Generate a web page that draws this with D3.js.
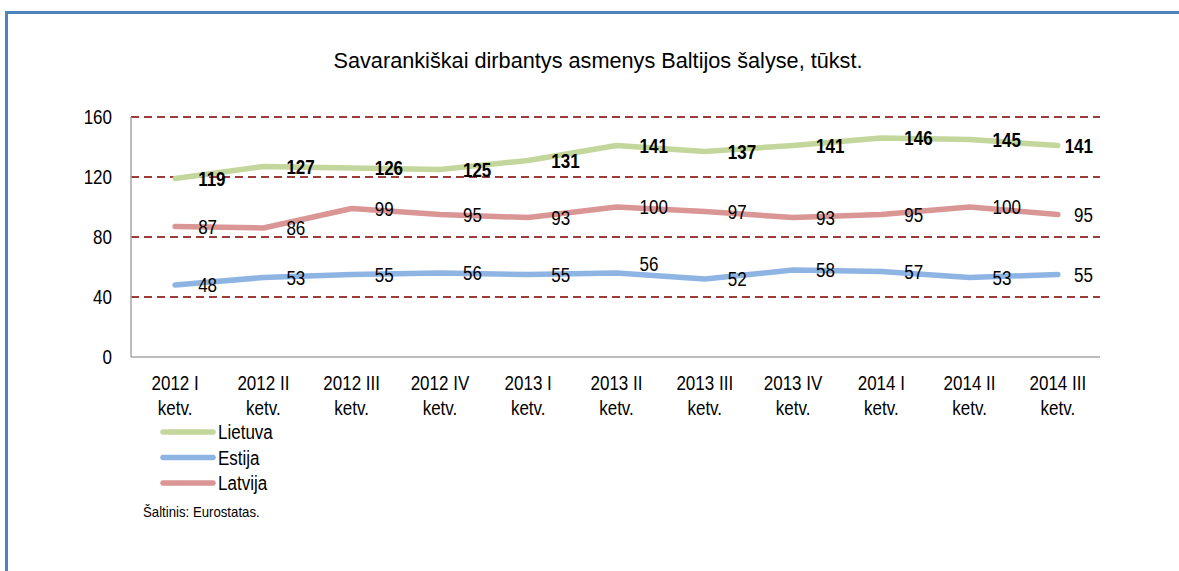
<!DOCTYPE html>
<html><head><meta charset="utf-8">
<script src="https://cdn.jsdelivr.net/npm/d3@7"></script>
<style>
html,body{margin:0;padding:0;background:#fff;}
svg{display:block;font-family:"Liberation Sans",Arial,sans-serif;}
</style></head>
<body>
<svg id="c" width="1179" height="571"></svg>
<script>
const title = "Savarankiškai dirbantys asmenys Baltijos šalyse, tūkst.";
const categories = ["2012 I ketv.","2012 II ketv.","2012 III ketv.","2012 IV ketv.","2013 I ketv.","2013 II ketv.","2013 III ketv.","2013 IV ketv.","2014 I ketv.","2014 II ketv.","2014 III ketv."];
const lietuva = [119,127,126,125,131,141,137,141,146,145,141];
const estija  = [48,53,55,56,55,56,52,58,57,53,55];
const latvija = [87,86,99,95,93,100,97,93,95,100,95];
const seriesNames = ["Lietuva","Estija","Latvija"];
const yTicks = [0,40,80,120,160];
const source = "Šaltinis: Eurostatas.";

const colors = {Lietuva:"#c3d69b", Estija:"#8eb4e3", Latvija:"#d99694"};
const series = [
  {name:"Lietuva", values:lietuva, bold:true},
  {name:"Estija", values:estija, bold:false},
  {name:"Latvija", values:latvija, bold:false}
];
const K = 0.85; // horizontal glyph compression seen in the reference
function squeeze(sel, k){
  sel.each(function(){
    const L = this.getComputedTextLength();
    this.setAttribute("textLength", L*k);
    this.setAttribute("lengthAdjust","spacingAndGlyphs");
  });
}

const svg = d3.select("#c");
svg.append("rect").attr("x",6.5).attr("y",12.5).attr("width",1200).attr("height",600)
  .attr("fill","#fff").attr("stroke","#4f81bd").attr("stroke-width",3);

const pL=131, pR=1102, pT=117, pB=357;
const x = d3.scaleBand().domain(categories).range([pL,pR]).padding(0);
const cx = d => x(d)+x.bandwidth()/2;
const y = d3.scaleLinear().domain([0,160]).range([pB,pT]);

// title
const t = svg.append("text").attr("x",598).attr("y",68).attr("text-anchor","middle")
  .attr("font-size",21.5).attr("fill","#000").text(title);
t.attr("textLength",529).attr("lengthAdjust","spacingAndGlyphs");

// gridlines
svg.append("g").selectAll("line").data(yTicks.filter(v=>v>0)).join("line")
  .attr("x1",pL).attr("x2",1100).attr("y1",d=>y(d)).attr("y2",d=>y(d))
  .attr("stroke","#9b3b3a").attr("stroke-width",2).attr("stroke-dasharray","8,5");

// axes lines
svg.append("line").attr("x1",pL).attr("x2",pL).attr("y1",pT).attr("y2",pB)
  .attr("stroke","#a6a6a6").attr("stroke-width",1.5);
svg.append("line").attr("x1",pL).attr("x2",1100).attr("y1",pB).attr("y2",pB)
  .attr("stroke","#a6a6a6").attr("stroke-width",1.5);

// y tick labels
const yl = svg.append("g").selectAll("text").data(yTicks).join("text")
  .attr("x",112).attr("y",d=>y(d)).attr("dy","0.35em").attr("text-anchor","end")
  .attr("font-size",20).attr("fill","#000").text(d=>d);
squeeze(yl,K);

// x category labels
const xl = svg.append("g").selectAll("text").data(categories).join("text")
  .attr("text-anchor","middle").attr("font-size",20).attr("fill","#000");
xl.each(function(d){
  const i = d.lastIndexOf(" ");
  const parts = [d.slice(0,i), d.slice(i+1)];
  const s = d3.select(this);
  parts.forEach((p,j)=>{
    s.append("tspan").attr("x",cx(d)).attr("y",390+j*25).text(p);
  });
});
svg.selectAll("tspan").each(function(){
  const L=this.getComputedTextLength();
  this.setAttribute("textLength",L*K);
  this.setAttribute("lengthAdjust","spacingAndGlyphs");
});

// lines
const line = d3.line().x((v,i)=>cx(categories[i])).y(v=>y(v));
series.forEach(s=>{
  svg.append("path").attr("d",line(s.values)).attr("fill","none")
    .attr("stroke",colors[s.name]).attr("stroke-width",5.5)
    .attr("stroke-linecap","round").attr("stroke-linejoin","round");
});

// data labels
const nudge = {"Estija-5":-9};
series.forEach(s=>{
  s.values.forEach((v,i)=>{
    const px = cx(categories[i]);
    const tx = svg.append("text").attr("y",y(v)+(nudge[s.name+"-"+i]||0)).attr("dy","0.35em")
      .attr("font-size",20).attr("font-weight",s.bold?"bold":"normal").attr("fill","#000").text(v);
    const w = tx.node().getComputedTextLength()*K;
    tx.attr("textLength",w).attr("lengthAdjust","spacingAndGlyphs");
    let lx = px+23;
    if (lx+w > 1093) lx = 1093 - w;
    tx.attr("x",lx);
  });
});

// legend
seriesNames.forEach((n,i)=>{
  const ly = 432 + i*25.5;
  svg.append("line").attr("x1",163).attr("x2",213).attr("y1",ly).attr("y2",ly)
    .attr("stroke",colors[n]).attr("stroke-width",5.5).attr("stroke-linecap","round");
  const lt = svg.append("text").attr("x",218).attr("y",ly).attr("dy","0.35em")
    .attr("font-size",20).attr("fill","#000").text(n);
  squeeze(lt,K);
});

const st = svg.append("text").attr("x",143).attr("y",512).attr("dy","0.35em")
  .attr("font-size",15).attr("fill","#000").text(source);
squeeze(st,0.88);
</script>
</body></html>
